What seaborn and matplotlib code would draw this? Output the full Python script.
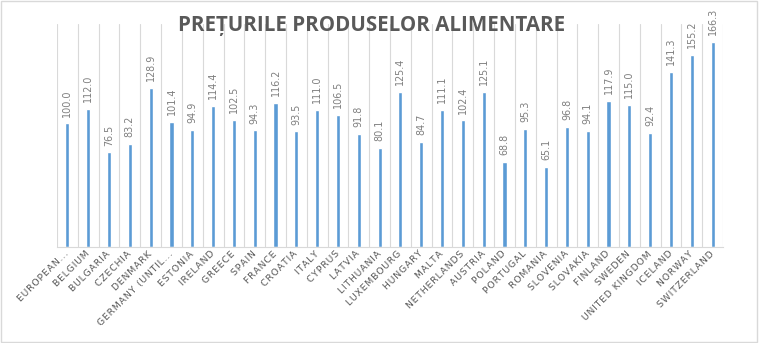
import matplotlib
matplotlib.use("Agg")
import matplotlib.pyplot as plt
from matplotlib.patches import Rectangle
import seaborn as sns
import pandas as pd

countries = [
    "EUROPEAN...", "BELGIUM", "BULGARIA", "CZECHIA", "DENMARK", "GERMANY (UNTIL...",
    "ESTONIA", "IRELAND", "GREECE", "SPAIN", "FRANCE", "CROATIA", "ITALY", "CYPRUS",
    "LATVIA", "LITHUANIA", "LUXEMBOURG", "HUNGARY", "MALTA", "NETHERLANDS", "AUSTRIA",
    "POLAND", "PORTUGAL", "ROMANIA", "SLOVENIA", "SLOVAKIA", "FINLAND", "SWEDEN",
    "UNITED KINGDOM", "ICELAND", "NORWAY", "SWITZERLAND",
]
price_index = [
    100.0, 112.0, 76.5, 83.2, 128.9, 101.4, 94.9, 114.4, 102.5, 94.3, 116.2, 93.5,
    111.0, 106.5, 91.8, 80.1, 125.4, 84.7, 111.1, 102.4, 125.1, 68.8, 95.3, 65.1,
    96.8, 94.1, 117.9, 115.0, 92.4, 141.3, 155.2, 166.3,
]
title = "PREȚURILE PRODUSELOR ALIMENTARE"


def spaced(s, sep="\u200a"):
    """Widen text by putting a hair space between letters."""
    return sep.join(s)


df = pd.DataFrame({"country": countries, "value": price_index})

sns.set_theme(style="white")
plt.rcParams["font.family"] = ["DejaVu Sans"]

fig = plt.figure(figsize=(7.59, 3.43), dpi=100)
ax = fig.add_axes([57 / 759, 1 - 247 / 343, 666 / 759, 223 / 343])

sns.barplot(data=df, x="country", y="value", color="#5B9BD5", saturation=1,
            width=0.2, ax=ax)

n = len(countries)
ax.set_xlim(-0.5, n - 0.5)
ax.set_ylim(0, 180.5)

# category separators
for b in range(n + 1):
    ax.axvline(b - 0.5, color="#d9d9d9", linewidth=0.8, zorder=0)

for s in ["top", "right", "left"]:
    ax.spines[s].set_visible(False)
ax.spines["bottom"].set_color("#d9d9d9")
ax.spines["bottom"].set_linewidth(0.8)

ax.set_yticks([])
ax.set_xlabel("")
ax.set_ylabel("")
ax.tick_params(axis="x", length=0, pad=4)
ax.set_xticks(range(n))
ax.set_xticklabels([spaced(c) for c in countries], rotation=45, ha="right",
                   va="center", rotation_mode="anchor", fontsize=6.7,
                   color="#595959")

for c in ax.containers:
    ax.bar_label(c, labels=[f"{v:.1f}" for v in price_index], rotation=90,
                 padding=5, fontsize=6.9, color="#7f7f7f")

t = fig.text(372 / 759, 1 - 25 / 343, title, ha="center",
             va="center", fontsize=14, fontweight="bold", color="#595959",
             family=["Open Sans", "DejaVu Sans"], zorder=5)
fig.canvas.draw()
w = t.get_window_extent().width
t.set_fontsize(14 * 388 / w)

fig.patches.append(Rectangle((0.001, 0.002), 0.997, 0.995, transform=fig.transFigure,
                             fill=False, edgecolor="#d9d9d9", linewidth=1))

fig.savefig("out.png", dpi=100)
